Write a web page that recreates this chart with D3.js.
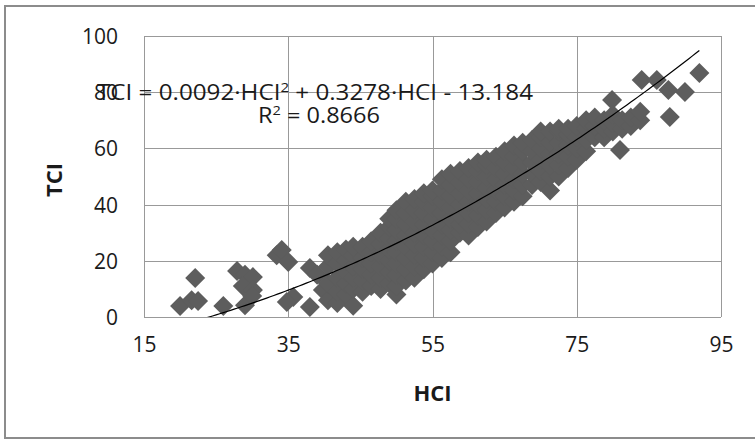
<!DOCTYPE html>
<html>
<head>
<meta charset="utf-8">
<script src="https://cdn.jsdelivr.net/npm/d3@7"></script>
<style>
  body { margin: 0; background: #fff; }
  text { font-family: "Open Sans", sans-serif; fill: #1a1a1a; }
</style>
</head>
<body>
<svg id="chart"></svg>
<script>
const hciValues = [
  20.0, 21.6, 22.5, 22.1, 26.0, 27.9, 29.0, 30.1, 28.7, 30.1, 29.0, 30.0,
  33.4, 34.1, 35.0, 35.7, 34.8, 38.0, 38.0, 39.0, 39.8,
  40.5, 40.5, 40.5, 40.5,
  41.8, 41.8, 41.8, 41.8, 41.8,
  43.0, 43.0, 43.0, 43.0, 43.0,
  44.0, 44.0, 44.0, 44.0, 44.0, 44.0,
  45.3, 45.3, 45.3, 45.3, 45.3,
  46.5, 46.5, 46.5, 46.5, 46.5,
  47.8, 47.8, 47.8, 47.8, 47.8, 47.8,
  49.0, 49.0, 49.0, 49.0, 49.0, 49.0, 49.0,
  50.0, 50.0, 50.0, 50.0, 50.0, 50.0, 50.0, 50.0, 50.0,
  51.3, 51.3, 51.3, 51.3, 51.3, 51.3, 51.3, 51.3,
  52.5, 52.5, 52.5, 52.5, 52.5, 52.5, 52.5, 52.5,
  53.8, 53.8, 53.8, 53.8, 53.8, 53.8, 53.8, 53.8,
  55.0, 55.0, 55.0, 55.0, 55.0, 55.0, 55.0, 55.0,
  56.3, 56.3, 56.3, 56.3, 56.3, 56.3, 56.3, 56.3,
  57.5, 57.5, 57.5, 57.5, 57.5, 57.5, 57.5, 57.5,
  58.8, 58.8, 58.8, 58.8, 58.8, 58.8, 58.8,
  60.0, 60.0, 60.0, 60.0, 60.0, 60.0, 60.0,
  61.3, 61.3, 61.3, 61.3, 61.3, 61.3, 61.3,
  62.5, 62.5, 62.5, 62.5, 62.5, 62.5, 62.5,
  63.8, 63.8, 63.8, 63.8, 63.8, 63.8,
  65.0, 65.0, 65.0, 65.0, 65.0, 65.0,
  66.3, 66.3, 66.3, 66.3, 66.3, 66.3,
  67.5, 67.5, 67.5, 67.5, 67.5, 67.5,
  68.8, 68.8, 68.8, 68.8, 68.8,
  70.0, 70.0, 70.0, 70.0, 70.0, 70.0,
  71.3, 71.3, 71.3, 71.3, 71.3, 71.3,
  72.5, 72.5, 72.5, 72.5, 72.5, 72.5,
  73.8, 73.8, 73.8, 73.8, 73.8,
  75.0, 75.0, 75.0, 75.0,
  76.3, 76.3, 76.3, 76.3,
  77.5, 77.5, 77.5,
  78.8, 78.8, 78.8,
  80.0, 80.0, 80.0,
  81.3, 81.3,
  82.5, 82.5,
  83.8, 83.8,
  79.9, 84.0, 86.1, 87.7, 90.0, 87.9, 92.0, 81.0
];

const tciValues = [
  3.9, 6.0, 5.7, 13.9, 3.9, 16.4, 15.0, 14.2, 11.0, 9.6, 4.2, 7.5,
  22.0, 23.8, 19.6, 7.1, 5.3, 3.6, 17.4, 15.0, 9.6,
  6, 12, 18, 22,
  5, 9, 14, 19, 23,
  8, 12, 16, 20, 24,
  4, 10, 14, 18, 22, 25,
  9, 13, 17, 21, 25,
  11, 15, 19, 23, 27,
  10, 14, 18, 22, 26, 30,
  12, 16, 20, 24, 28, 32, 35,
  8, 11, 15, 19, 23, 27, 31, 35, 38,
  13, 17, 21, 25, 29, 33, 37, 41,
  14, 18, 22, 26, 30, 34, 38, 42,
  17, 21, 25, 29, 33, 37, 41, 44,
  19, 23, 27, 31, 35, 39, 43, 45,
  21, 25, 29, 33, 37, 41, 45, 49,
  23, 27, 31, 35, 39, 43, 47, 51,
  30, 33, 36, 40, 44, 48, 52,
  29, 33, 37, 41, 45, 49, 53,
  32, 36, 40, 44, 48, 52, 55,
  34, 38, 42, 46, 50, 54, 56,
  37, 41, 45, 49, 53, 57,
  39, 43, 47, 51, 55, 59,
  41, 45, 49, 53, 57, 61,
  43, 47, 51, 55, 59, 62,
  47, 51, 55, 59, 63,
  48, 52, 56, 60, 64, 66,
  45, 50, 54, 58, 62, 66,
  50, 54, 58, 62, 66, 67,
  53, 57, 61, 65, 67,
  56, 60, 64, 68,
  59, 63, 67, 70,
  64, 68, 71,
  64, 67, 70,
  66, 69, 72,
  67, 70,
  68, 71,
  70, 73,
  77.2, 84.3, 84.3, 80.8, 80.1, 71.2, 86.8, 59.4
];

// polynomial trendline: TCI = a*HCI^2 + b*HCI + c
const trendCoeffs = [0.0092, 0.3278, -13.184];
const xTicks = [15, 35, 55, 75, 95];
const yTicks = [0, 20, 40, 60, 80, 100];

const width = 755, height = 440;
const plot = { left: 144, right: 721, top: 36, bottom: 317 };

const svg = d3.select("#chart")
    .attr("width", width)
    .attr("height", height);

// chart border
svg.append("rect")
    .attr("x", 5).attr("y", 6)
    .attr("width", 770).attr("height", 432)
    .attr("fill", "#fff")
    .attr("stroke", "#8c8c8c")
    .attr("stroke-width", 2);

const x = d3.scaleLinear().domain([15, 95]).range([plot.left, plot.right]);
const y = d3.scaleLinear().domain([0, 100]).range([plot.bottom, plot.top]);

// gridlines
svg.append("g")
    .selectAll("line.v")
    .data(xTicks)
    .enter().append("line")
    .attr("x1", d => Math.round(x(d)) + 0.5).attr("x2", d => Math.round(x(d)) + 0.5)
    .attr("y1", plot.top).attr("y2", plot.bottom)
    .attr("stroke", "#999").attr("stroke-width", 1);

svg.append("g")
    .selectAll("line.h")
    .data(yTicks)
    .enter().append("line")
    .attr("y1", d => Math.round(y(d)) + 0.5).attr("y2", d => Math.round(y(d)) + 0.5)
    .attr("x1", plot.left).attr("x2", plot.right)
    .attr("stroke", "#999").attr("stroke-width", 1);

// axes (labels only, Excel style)
const xAxis = d3.axisBottom(x).tickValues(xTicks).tickSize(0).tickPadding(0);
const yAxis = d3.axisLeft(y).tickValues(yTicks).tickSize(0).tickPadding(0);

const gx = svg.append("g")
    .attr("transform", `translate(0, ${plot.bottom})`)
    .call(xAxis);
gx.select(".domain").remove();
gx.selectAll("text")
    .attr("y", 35).attr("dy", 0)
    .style("font-family", "Open Sans").style("font-size", "21px").attr("fill", "#1a1a1a");

const gy = svg.append("g")
    .attr("transform", `translate(${plot.left}, 0)`)
    .call(yAxis);
gy.select(".domain").remove();
gy.selectAll("text")
    .attr("x", -26).attr("dy", "0.36em")
    .style("font-family", "Open Sans").style("font-size", "21px").attr("fill", "#1a1a1a");

// points
const points = hciValues.map((h, i) => ({ hci: h, tci: tciValues[i] }));
const diamond = d3.symbol().type(d3.symbolSquare).size(200);

svg.append("g")
    .selectAll("path")
    .data(points)
    .enter().append("path")
    .attr("d", diamond)
    .attr("transform", d => `translate(${x(d.hci)}, ${y(d.tci)}) rotate(45)`)
    .attr("fill", "#5d5d5d");

// trendline, clipped to the plot area
svg.append("clipPath").attr("id", "plotClip")
    .append("rect")
    .attr("x", plot.left).attr("y", plot.top)
    .attr("width", plot.right - plot.left).attr("height", plot.bottom - plot.top);

const [a, b, c] = trendCoeffs;
const xMin = d3.min(hciValues), xMax = d3.max(hciValues);
const trend = d3.range(xMin, xMax + 0.01, 0.5).map(h => [h, a * h * h + b * h + c]);

svg.append("path")
    .datum(trend)
    .attr("clip-path", "url(#plotClip)")
    .attr("fill", "none")
    .attr("stroke", "#000")
    .attr("stroke-width", 1.2)
    .attr("d", d3.line().x(d => x(d[0])).y(d => y(d[1])));

// trendline equation (stretched like the source label)
const eq = svg.append("text")
    .attr("x", 97).attr("y", 100)
    .attr("textLength", 436)
    .attr("lengthAdjust", "spacingAndGlyphs")
    .style("font-size", "21px");
eq.append("tspan").text("TCI = 0.0092·HCI");
eq.append("tspan").text("2").attr("dy", -8).style("font-size", "13px");
eq.append("tspan").text(" + 0.3278·HCI - 13.184").attr("dy", 8);

const r2 = svg.append("text")
    .attr("x", 258).attr("y", 123)
    .attr("textLength", 122)
    .attr("lengthAdjust", "spacingAndGlyphs")
    .style("font-size", "21px");
r2.append("tspan").text("R");
r2.append("tspan").text("2").attr("dy", -8).style("font-size", "13px");
r2.append("tspan").text(" = 0.8666").attr("dy", 8);

// axis titles
svg.append("text")
    .attr("x", (plot.left + plot.right) / 2).attr("y", 401)
    .attr("text-anchor", "middle")
    .style("font-size", "22px").style("font-weight", "bold")
    .text("HCI");

svg.append("text")
    .attr("transform", "translate(62, 180) rotate(-90)")
    .attr("text-anchor", "middle")
    .style("font-size", "22px").style("font-weight", "bold")
    .text("TCI");
</script>
</body>
</html>
